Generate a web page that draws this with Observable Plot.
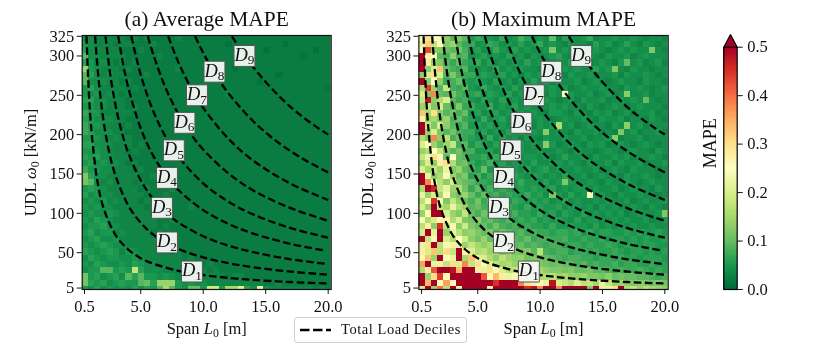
<!DOCTYPE html>
<html><head><meta charset="utf-8">
<script src="https://cdn.jsdelivr.net/npm/d3@7"></script>
<script src="https://cdn.jsdelivr.net/npm/@observablehq/plot@0.6"></script>
<style>
html,body{margin:0;padding:0;background:#fff;width:814px;height:349px;overflow:hidden}
#root{position:relative;width:814px;height:349px;font-family:"Liberation Serif",serif;filter:blur(0.35px)}
#root>div{position:absolute;top:0}
#legend{left:294px;top:317px!important;width:171px;height:24px;border:1.5px solid #d0d0d0;border-radius:3px;background:#fff;font-size:14.5px;letter-spacing:.55px;color:#111}
#legend svg{position:absolute;left:5px;top:10px}
#legend span{position:absolute;left:46px;top:3px;white-space:nowrap}
</style></head><body><div id="root"></div>
<script>
// Grid coordinates
const spans = d3.range(40).map(i => 0.5 + i * 0.5);
const udls = d3.range(41).map(i => 325 - i * 8);
const xTicks = [0.5, 5, 10, 15, 20];
const yTicks = [5, 50, 100, 150, 200, 250, 300, 325];
const colorTicks = [0, 0.1, 0.2, 0.3, 0.4, 0.5];
const colorStops = [0,0.05,0.1,0.15,0.2,0.25,0.3,0.35,0.4,0.45,0.5];
const colorValues = ["#006837","#1a9850","#66bd63","#a6d96a","#d9ef8b","#ffffbf","#fee08b","#fdae61","#f46d43","#d73027","#a50026"];

// Average MAPE, in hundredths, top row (325 kN/m) first
const averageMape = [
[4,4,3,3,3,3,3,2,3,2,3,2,2,2,2,3,2,2,2,2,2,2,2,2,2,2,2,2,2,2,2,2,2,2,2,2,2,2,2,2],
[5,4,3,3,3,2,3,3,2,2,2,3,2,2,2,2,2,2,2,2,2,2,2,1,2,2,2,2,2,2,2,2,1,2,2,2,2,2,2,2],
[6,4,4,3,3,3,2,2,2,3,2,2,2,2,2,2,2,2,2,2,2,2,2,2,2,2,2,2,2,1,2,2,2,2,2,2,2,1,2,2],
[9,4,4,3,3,3,3,2,2,2,2,2,3,2,2,2,2,2,2,2,2,2,2,2,2,2,1,2,2,2,2,2,2,2,2,1,2,2,2,2],
[6,5,3,4,3,2,3,2,3,2,2,2,2,2,2,2,2,2,2,2,2,2,2,2,2,2,2,2,2,2,2,2,2,2,2,2,2,2,2,2],
[14,5,4,3,3,3,2,3,2,2,2,2,2,2,2,3,2,2,2,2,2,2,2,2,1,2,2,2,2,2,2,2,2,2,2,2,2,2,2,2],
[9,6,4,3,4,3,3,2,2,2,3,2,2,2,2,2,2,2,2,2,2,2,2,2,2,2,2,2,2,2,2,1,2,2,2,2,2,2,2,2],
[9,4,4,4,3,3,2,3,2,2,2,2,2,2,2,2,2,2,2,2,2,2,2,2,2,2,2,2,1,2,2,2,2,2,2,2,2,2,2,2],
[5,6,4,3,3,3,3,2,3,2,2,2,2,2,2,2,2,2,2,2,2,2,2,2,2,2,2,2,2,2,2,2,2,2,2,2,2,2,2,1],
[5,4,5,3,4,3,2,3,2,2,2,2,2,2,2,2,2,2,2,2,2,2,2,3,2,2,2,2,2,2,2,2,2,2,2,2,2,2,2,2],
[6,6,4,4,3,3,3,2,2,2,2,2,2,2,2,2,2,2,2,2,2,2,2,2,2,2,2,2,2,2,2,2,2,2,2,2,2,2,2,2],
[5,5,4,4,3,3,3,2,3,2,2,2,2,2,2,2,2,2,2,2,2,2,2,2,2,2,2,2,2,2,2,2,2,2,2,2,2,2,2,2],
[7,5,5,3,3,3,3,3,2,2,2,2,2,2,2,2,2,2,2,2,2,2,2,2,2,2,2,2,2,2,2,2,2,2,2,2,2,2,2,2],
[6,5,4,4,4,3,3,2,2,2,2,2,2,2,2,2,2,2,2,2,2,2,2,2,2,2,2,2,2,2,2,2,2,2,2,2,2,2,2,2],
[7,5,5,4,3,3,2,3,2,2,2,2,2,2,2,2,2,2,2,2,2,2,2,2,2,2,2,2,2,2,2,2,2,2,2,2,2,2,2,2],
[7,6,4,4,4,3,3,2,2,2,2,2,2,2,2,2,2,2,2,2,2,2,2,2,2,2,2,2,2,2,2,2,2,2,2,2,2,2,2,2],
[5,5,5,4,3,4,3,3,2,2,2,2,2,2,2,2,2,2,2,2,2,2,2,2,2,2,2,2,2,2,2,2,2,2,2,2,2,2,2,2],
[6,6,4,4,4,3,3,3,2,3,2,2,2,2,2,2,2,2,2,2,2,2,2,2,2,2,2,2,2,2,2,2,2,2,2,2,2,2,2,2],
[5,5,5,4,3,3,3,2,3,2,2,2,2,2,2,2,2,2,2,2,2,2,2,2,2,2,2,2,2,2,2,2,2,2,2,2,2,2,2,2],
[6,5,6,4,4,3,3,3,2,2,2,2,2,2,2,2,2,2,2,2,2,2,2,2,2,2,2,2,2,2,2,2,2,2,2,2,2,2,2,2],
[5,6,4,5,4,4,3,2,3,2,2,2,2,2,2,2,2,2,2,2,2,2,2,2,2,2,2,2,2,2,2,2,2,2,2,2,2,2,2,2],
[7,5,5,4,4,3,3,3,2,3,2,2,2,2,2,2,2,2,2,2,2,2,2,2,2,2,2,2,2,2,2,2,2,2,2,2,2,2,2,2],
[12,6,4,4,3,3,3,3,3,2,2,3,2,2,2,2,2,2,2,2,2,2,2,2,2,2,2,2,2,2,2,2,2,2,2,2,2,2,2,2],
[11,9,4,3,4,3,3,3,2,3,2,2,2,2,2,2,2,2,2,2,2,2,2,2,2,2,2,2,2,2,2,2,2,2,2,2,2,2,2,2],
[5,6,5,4,3,3,3,3,3,2,3,2,2,2,3,2,2,2,2,2,2,2,2,2,2,2,2,2,2,2,2,2,2,2,2,2,2,2,2,2],
[6,4,5,4,4,3,3,3,3,3,2,2,2,3,2,2,2,2,2,2,2,2,2,2,2,2,2,2,2,2,2,2,2,2,2,2,2,2,2,2],
[4,5,4,5,3,4,3,3,3,2,3,2,2,2,2,2,2,2,2,2,2,2,2,2,2,2,2,2,2,2,2,2,2,2,2,2,2,2,2,2],
[5,4,5,4,4,3,3,3,3,3,2,3,2,2,2,2,2,3,2,2,2,2,2,2,2,2,2,2,2,2,2,2,2,2,2,2,2,2,2,2],
[4,5,4,4,5,4,3,3,3,3,3,2,3,2,2,2,2,2,2,2,2,2,2,2,2,2,2,2,2,2,2,2,2,2,2,2,2,2,2,2],
[5,4,6,5,4,3,3,3,3,3,3,3,2,2,3,2,2,2,2,2,2,2,2,2,2,2,2,2,2,2,2,2,2,2,2,2,2,2,2,2],
[4,5,5,6,4,4,3,3,3,3,3,3,2,3,2,2,2,2,2,2,2,2,2,2,2,2,2,2,2,2,2,2,2,2,2,2,2,2,2,2],
[5,6,4,5,5,3,4,3,3,3,3,2,3,2,2,2,2,2,2,2,2,2,2,2,2,2,2,2,2,2,2,2,2,2,2,2,2,2,2,2],
[4,5,6,4,4,5,3,3,3,3,3,3,2,3,2,2,2,2,2,2,2,2,2,2,2,2,2,2,2,2,2,2,2,2,2,2,2,2,2,2],
[5,4,5,6,5,4,4,3,3,3,3,3,3,2,3,2,2,2,2,2,2,2,2,2,2,2,2,2,2,2,2,2,2,2,2,2,2,2,2,2],
[6,5,4,5,6,5,3,5,4,3,3,3,3,3,2,3,2,2,2,2,2,2,2,2,2,2,2,2,2,2,2,2,2,2,2,2,2,2,2,2],
[4,6,5,4,5,5,4,4,5,4,3,3,3,3,3,3,2,3,2,2,2,2,2,2,2,2,2,2,2,2,2,2,2,2,2,2,2,2,2,2],
[5,4,6,5,4,4,5,4,6,5,4,4,3,3,3,3,3,3,3,2,3,2,2,2,2,2,2,2,2,2,2,2,2,2,2,2,2,2,2,2],
[4,5,5,9,9,5,6,5,18,6,4,4,4,3,3,3,3,3,3,3,2,3,2,2,2,2,2,2,2,2,2,2,2,2,2,2,2,2,2,2],
[11,5,6,4,5,6,4,9,6,9,5,5,4,5,4,3,3,3,3,3,3,3,3,2,3,3,2,2,2,2,2,2,2,2,2,2,2,2,2,2],
[11,6,5,6,4,5,6,5,5,9,10,6,14,14,14,5,4,5,4,4,3,3,3,3,3,3,3,3,3,2,2,3,2,2,2,2,2,2,2,2],
[5,4,6,4,5,4,5,4,6,4,6,5,9,16,9,5,4,10,10,5,19,19,5,15,15,21,6,4,22,4,3,3,3,3,3,3,3,2,3,2]
];

// Maximum MAPE, in hundredths, top row (325 kN/m) first
const maximumMape = [
[24,30,25,24,13,9,12,9,5,7,6,5,4,7,4,5,8,6,4,5,4,10,3,6,4,4,5,7,3,4,4,5,4,4,5,4,3,4,4,3],
[22,32,18,26,12,14,9,7,7,4,5,7,6,4,5,4,6,4,5,7,4,5,4,3,5,4,4,3,6,4,5,3,4,6,4,3,5,4,3,4],
[25,43,13,12,10,9,11,8,5,6,4,5,7,5,4,6,4,5,4,4,5,12,4,5,4,6,3,4,5,4,3,4,5,4,5,4,4,12,4,3],
[50,27,24,9,8,13,8,9,4,5,6,4,5,4,6,4,5,3,5,4,4,5,6,4,3,5,4,5,4,3,5,4,4,5,3,4,5,4,4,4],
[50,28,14,12,9,7,10,7,6,7,4,6,4,5,4,5,4,6,4,5,3,4,5,4,6,4,5,3,4,5,4,3,5,10,4,5,3,4,5,3],
[50,13,20,33,10,8,7,9,5,4,5,4,7,4,5,4,5,4,4,3,5,4,3,5,4,5,4,4,6,4,5,12,4,3,5,4,4,3,4,4],
[13,20,30,20,9,12,8,7,7,5,6,5,4,6,4,5,3,5,4,5,4,6,4,3,5,4,4,5,3,4,4,5,3,5,4,4,5,4,3,4],
[50,13,25,13,7,8,10,6,5,6,5,4,6,4,5,3,5,4,6,4,5,3,5,4,4,5,3,4,5,4,3,4,5,4,4,3,5,4,4,3],
[16,44,14,9,18,8,7,9,5,4,7,5,4,5,4,6,4,5,3,5,4,5,4,5,3,4,5,4,4,5,4,4,3,5,4,5,4,3,4,5],
[20,12,38,10,9,11,8,7,6,7,4,6,5,4,6,4,5,4,5,4,3,5,4,25,5,4,4,5,3,4,5,3,4,13,4,4,5,3,4,4],
[18,48,13,16,20,9,7,8,5,4,6,5,4,6,4,5,4,3,5,4,5,4,3,4,5,3,5,4,4,5,3,4,5,4,5,4,10,4,3,4],
[14,18,12,20,10,8,12,7,7,5,5,7,4,5,4,6,4,5,4,3,4,5,4,5,4,4,3,5,4,3,4,5,4,3,4,5,4,4,4,3],
[33,15,30,13,9,11,8,10,5,6,4,5,6,4,5,4,5,4,5,4,3,5,5,4,3,5,4,3,5,4,5,3,4,5,3,4,4,5,3,4],
[28,14,15,12,14,8,10,7,6,4,7,4,5,6,4,5,3,5,4,5,4,3,4,5,4,4,5,4,3,5,4,4,5,3,4,4,3,5,4,3],
[50,18,12,20,13,9,7,9,5,6,5,6,4,5,4,4,6,4,3,5,4,5,16,4,5,3,4,5,4,4,3,5,4,13,4,5,3,4,4,4],
[50,14,20,12,9,11,8,7,7,4,6,4,5,4,6,4,5,4,5,4,13,4,5,4,3,5,4,4,5,3,4,3,12,4,5,3,4,4,5,3],
[16,12,38,13,17,8,10,7,6,5,4,7,4,6,4,5,3,5,4,3,5,4,4,5,4,4,5,3,4,4,5,13,3,4,4,5,3,4,4,4],
[20,26,14,10,14,18,8,9,5,7,6,4,6,4,5,4,5,4,5,4,13,5,3,4,5,4,3,5,4,5,3,4,5,4,3,4,5,4,3,4],
[14,16,25,18,12,9,11,8,8,5,5,6,4,5,6,4,5,4,4,5,4,4,5,4,3,5,4,4,3,4,5,4,3,4,5,4,4,3,5,4],
[18,22,30,26,10,25,10,9,6,6,7,5,7,4,5,6,4,5,5,4,5,3,4,6,4,4,5,3,5,4,4,5,4,5,3,4,4,5,4,3],
[14,20,13,28,30,16,10,11,7,5,6,8,5,6,4,5,5,4,6,4,4,5,5,4,5,4,3,5,4,4,5,3,5,4,4,5,3,4,4,5],
[20,15,18,14,22,12,14,9,8,6,10,5,7,5,6,5,4,6,4,5,6,4,5,4,4,5,4,4,5,3,4,5,4,3,5,4,4,4,3,4],
[50,22,13,16,24,14,10,12,6,8,5,7,6,7,5,6,5,4,6,5,4,5,4,6,4,4,5,3,4,5,4,4,3,5,4,4,5,4,3,4],
[50,38,24,17,13,20,12,10,9,7,7,6,8,5,6,5,7,5,5,4,6,4,5,12,5,4,4,5,4,3,5,4,4,5,4,3,4,5,4,4],
[16,50,46,18,22,14,16,11,7,10,6,8,6,7,6,5,6,5,6,5,5,6,4,5,4,5,5,4,5,4,4,5,3,4,5,4,4,3,5,4],
[22,14,20,15,26,13,11,14,10,7,10,7,8,6,7,6,5,7,5,6,4,12,5,4,6,4,5,24,4,5,4,3,5,4,4,5,4,4,3,4],
[17,24,45,26,12,18,13,10,8,11,7,9,6,8,5,7,6,5,6,5,6,4,5,6,4,5,4,4,5,4,5,4,4,5,3,4,5,4,4,5],
[20,14,50,18,15,22,16,14,9,10,8,7,10,6,7,6,5,7,5,6,5,5,6,4,5,5,4,5,3,5,4,5,4,4,5,4,3,5,4,3],
[14,26,50,50,20,14,12,18,10,8,11,8,7,8,6,8,6,6,5,7,5,6,4,6,5,4,6,4,5,4,5,4,5,3,4,5,4,4,5,12],
[24,16,20,26,27,16,20,12,11,13,9,10,8,7,9,6,7,6,7,5,6,5,6,5,4,6,4,5,5,4,4,5,4,5,4,4,5,3,4,5],
[17,28,13,45,18,24,13,19,12,10,10,8,11,8,7,8,6,7,6,6,5,7,5,5,6,5,5,4,6,4,5,4,5,4,5,4,4,5,4,4],
[20,50,22,50,14,22,17,13,14,12,10,12,9,11,9,8,9,7,8,7,7,6,7,7,6,7,5,7,5,6,6,5,5,6,5,6,5,5,6,5],
[50,18,26,50,20,16,25,19,13,11,14,10,12,9,10,9,8,10,7,8,8,7,7,8,6,6,7,6,6,7,5,6,6,5,6,5,6,5,5,6],
[22,30,50,17,24,28,22,14,18,15,13,15,11,13,12,9,10,8,9,8,7,8,8,6,7,7,6,7,6,6,7,6,5,6,6,5,6,6,5,5],
[28,20,33,17,30,18,50,27,20,16,17,14,16,12,14,12,11,12,9,17,8,7,8,8,6,7,7,6,7,6,6,7,6,5,6,6,5,6,5,6],
[24,33,14,50,26,22,50,15,33,22,20,16,13,17,14,13,14,11,12,11,10,9,8,7,8,8,7,7,6,7,7,6,7,6,6,5,6,6,6,5],
[36,50,22,28,18,30,20,38,18,30,24,20,17,15,16,14,12,14,12,12,11,10,11,10,9,8,9,7,8,7,7,8,6,7,7,6,6,7,6,6],
[16,28,42,50,50,48,34,50,50,28,22,30,24,20,17,18,16,15,14,15,13,12,12,11,12,10,10,11,9,9,8,7,8,7,7,8,7,6,7,6],
[50,14,30,44,26,50,50,50,50,50,42,26,34,28,22,24,20,18,20,16,16,17,14,15,13,13,14,12,12,11,13,10,11,10,10,9,9,8,7,8],
[50,34,50,24,36,26,50,50,50,50,50,50,45,50,50,50,38,30,28,24,22,48,20,18,16,20,17,18,15,22,18,14,14,13,12,13,12,11,12,11],
[20,50,14,40,17,50,22,50,50,50,50,28,50,50,50,50,50,45,48,38,50,50,38,50,50,50,50,12,50,22,22,30,50,16,18,14,17,15,14,13]
];

// Decile curves: [span, UDL]
const d1 = [[0.66,325],[0.8,270],[1,216],[1.5,144],[2,108],[3,72],[4,54],[5,43],[6,36],[8,27],[10,21.6],[12,18],[14,15.4],[17,12.7],[20,10.8]];
const d2 = [[1.35,325],[1.6,275],[2,220],[2.5,176],[3,147],[4,110],[5,88],[6,73],[8,55],[10,44],[12,36.7],[14,31.4],[17,25.9],[20,22]];
const d3Curve = [[2.18,325],[2.6,272],[3,236],[3.5,202],[4,177],[5,142],[6,118],[7,101],[8,88.5],[10,70.8],[12,59],[14,50.6],[17,41.6],[20,35.4]];
const d4 = [[3.2,325],[3.6,289],[4,260],[5,208],[6,173],[7,149],[8,130],[10,104],[12,86.7],[14,74.3],[17,61.2],[19.7,52.8]];
const d5 = [[4.25,325],[5,276],[6,230],[7,197],[8,172.5],[10,138],[12,115],[14,98.6],[17,81.2],[20,69]];
const d6 = [[5.57,325],[6,302],[7,259],[8,226.5],[9,201],[10,181],[12,151],[14,129],[17,106.6],[20,90.6]];
const d7 = [[7.2,325],[8,292.5],[9,260],[10,234],[12,195],[14,167],[17,137.6],[20,117]];
const d8 = [[9.35,325],[10,304],[11,276],[12,253],[14,217],[16,190],[18,169],[20,152]];
const d9 = [[12.3,325],[13,308],[14,286],[15,267],[16,250],[17,235],[18,222],[19,210.5],[20,200]];
const deciles = [d1,d2,d3Curve,d4,d5,d6,d7,d8,d9];

const labelNames = ["D_1","D_2","D_3","D_4","D_5","D_6","D_7","D_8","D_9"];
const labelSpan = [9.1,7.1,6.7,7.1,7.65,8.5,9.5,10.9,13.3];
const labelUdl = [26,63,107,145,180,215,250,280,300];

const colorOpts = {type:"linear", domain:colorStops, range:colorValues, clamp:true};
const FONT = '"Liberation Serif", serif';

function rich(root) {
  root.querySelectorAll("text").forEach(t => {
    const s = t.textContent;
    const m = s.match(/^(.*?)([A-Za-zω])_(\d)(.*)$/);
    if (!m) return;
    t.textContent = "";
    const add = (txt, attrs) => {
      const e = document.createElementNS("http://www.w3.org/2000/svg","tspan");
      e.textContent = txt;
      for (const k in attrs) e.setAttribute(k, attrs[k]);
      t.appendChild(e);
    };
    if (m[1]) add(m[1], {});
    add(m[2], {"font-style":"italic"});
    add(m[3], {"font-size":"0.72em", dy:"0.25em"});
    if (m[4]) add(m[4], {dy:"-0.18em"});
  });
}

function panel(values, title, left, axisLeft, axisRight, xDomain, cellOffset) {
  const cells = [];
  values.forEach((row, r) => row.forEach((v, k) => cells.push({L: spans[k], w: udls[r], v: v / 100})));
  const W = axisRight - left + 14;
  const labels = labelNames.map((n, i) => ({n, L: labelSpan[i], w: labelUdl[i]}));
  const lines = deciles.flatMap((c, i) => c.map(p => ({i, L: p[0], w: p[1]})));
  const plot = Plot.plot({
    width: W, height: 349,
    marginLeft: axisLeft - left, marginRight: W - (axisRight - left),
    marginTop: 35, marginBottom: 60,
    x: {domain: xDomain, ticks: xTicks, tickFormat: d3.format(".1f"), label: null},
    y: {domain: [3.2, 326], ticks: yTicks, label: null},
    color: colorOpts,
    style: {fontFamily: FONT, fontSize: "16.5px", background: "transparent", color: "#111", overflow: "visible"},
    marks: [
      Plot.rect(cells, {x1: d => d.L - cellOffset, x2: d => d.L + 0.5 - cellOffset, y1: d => d.w - 6, y2: d => d.w + 2, fill: "v", clip: true, shapeRendering: "crispEdges"}),
      Plot.line(lines, {x: "L", y: "w", z: "i", stroke: "#000", strokeWidth: 2.3, strokeDasharray: "7.5,3.5", strokeLinecap: "butt", curve: "catmull-rom", clip: true}),
      Plot.frame({stroke: "#111", strokeWidth: 1.2}),
      Plot.axisX({ticks: xTicks, tickFormat: d3.format(".1f"), tickSize: 5, tickPadding: 6, stroke: "#111", label: "Span L_0 [m]", labelAnchor: "center", labelOffset: 45, labelArrow: "none"}),
      Plot.axisY({ticks: yTicks, tickSize: 5, tickPadding: 3, stroke: "#111", label: "UDL ω_0 [kN/m]", labelAnchor: "center", labelOffset: 58, labelArrow: "none"}),
      Plot.dot(labels, {x: "L", y: "w", symbol: "square", r: 11.8, fill: "rgba(245,248,245,0.95)", stroke: "#555", strokeWidth: 1}),
      Plot.text(labels, {x: "L", y: "w", text: "n", fontSize: 18.5, fill: "#111", dy: -1}),
      Plot.text([title], {frameAnchor: "top", dy: -25, fontSize: 21.5, fill: "#111", lineAnchor: "top"})
    ]
  });
  rich(plot);
  const holder = document.createElement("div");
  holder.style.left = left + "px";
  holder.appendChild(plot);
  return holder;
}

function colorbar() {
  const step = 0.0025;
  const levels = d3.range(0, 0.5, step);
  const plot = Plot.plot({
    width: 114, height: 349,
    marginLeft: 23.3, marginRight: 114 - 36.7, marginTop: 46.7, marginBottom: 60,
    x: {domain: [0, 1], axis: null},
    y: {domain: [0, 0.5], ticks: colorTicks, label: null},
    color: colorOpts,
    style: {fontFamily: FONT, fontSize: "16.5px", background: "transparent", color: "#111", overflow: "visible"},
    marks: [
      Plot.rect(levels, {x1: 0, x2: 1, y1: d => d, y2: d => d + step, fill: d => d + step / 2, shapeRendering: "crispEdges"}),
      Plot.line([[0,0.5],[0.5,0.526],[1,0.5]], {x: d => d[0], y: d => d[1], fill: "#a50026", stroke: "#000", strokeWidth: 1.2, strokeLinejoin: "miter"}),
      Plot.frame({stroke: "#000", strokeWidth: 1.2}),
      Plot.axisY({anchor: "right", ticks: colorTicks, tickFormat: d3.format(".1f"), tickSize: 5, tickPadding: 5, stroke: "#111", label: null}),
      Plot.text(["MAPE"], {frameAnchor: "left", dx: -14, rotate: -90, fontSize: 18, fill: "#111"})
    ]
  });
  const holder = document.createElement("div");
  holder.style.left = "700px";
  holder.appendChild(plot);
  return holder;
}

const root = document.getElementById("root");
root.appendChild(panel(averageMape, "(a) Average MAPE", 0, 81.7, 330.7, [0.316, 20.24], 0.184));
root.appendChild(panel(maximumMape, "(b) Maximum MAPE", 345, 418.4, 667.7, [0.284, 20.27], 0.216));
root.appendChild(colorbar());

const legend = document.createElement("div");
legend.id = "legend";
legend.innerHTML = '<svg width="36" height="4"><line x1="0" x2="31" y1="2" y2="2" stroke="#000" stroke-width="2.5" stroke-dasharray="9.5,3.5"/></svg><span>Total Load Deciles</span>';
root.appendChild(legend);
</script></body></html>
